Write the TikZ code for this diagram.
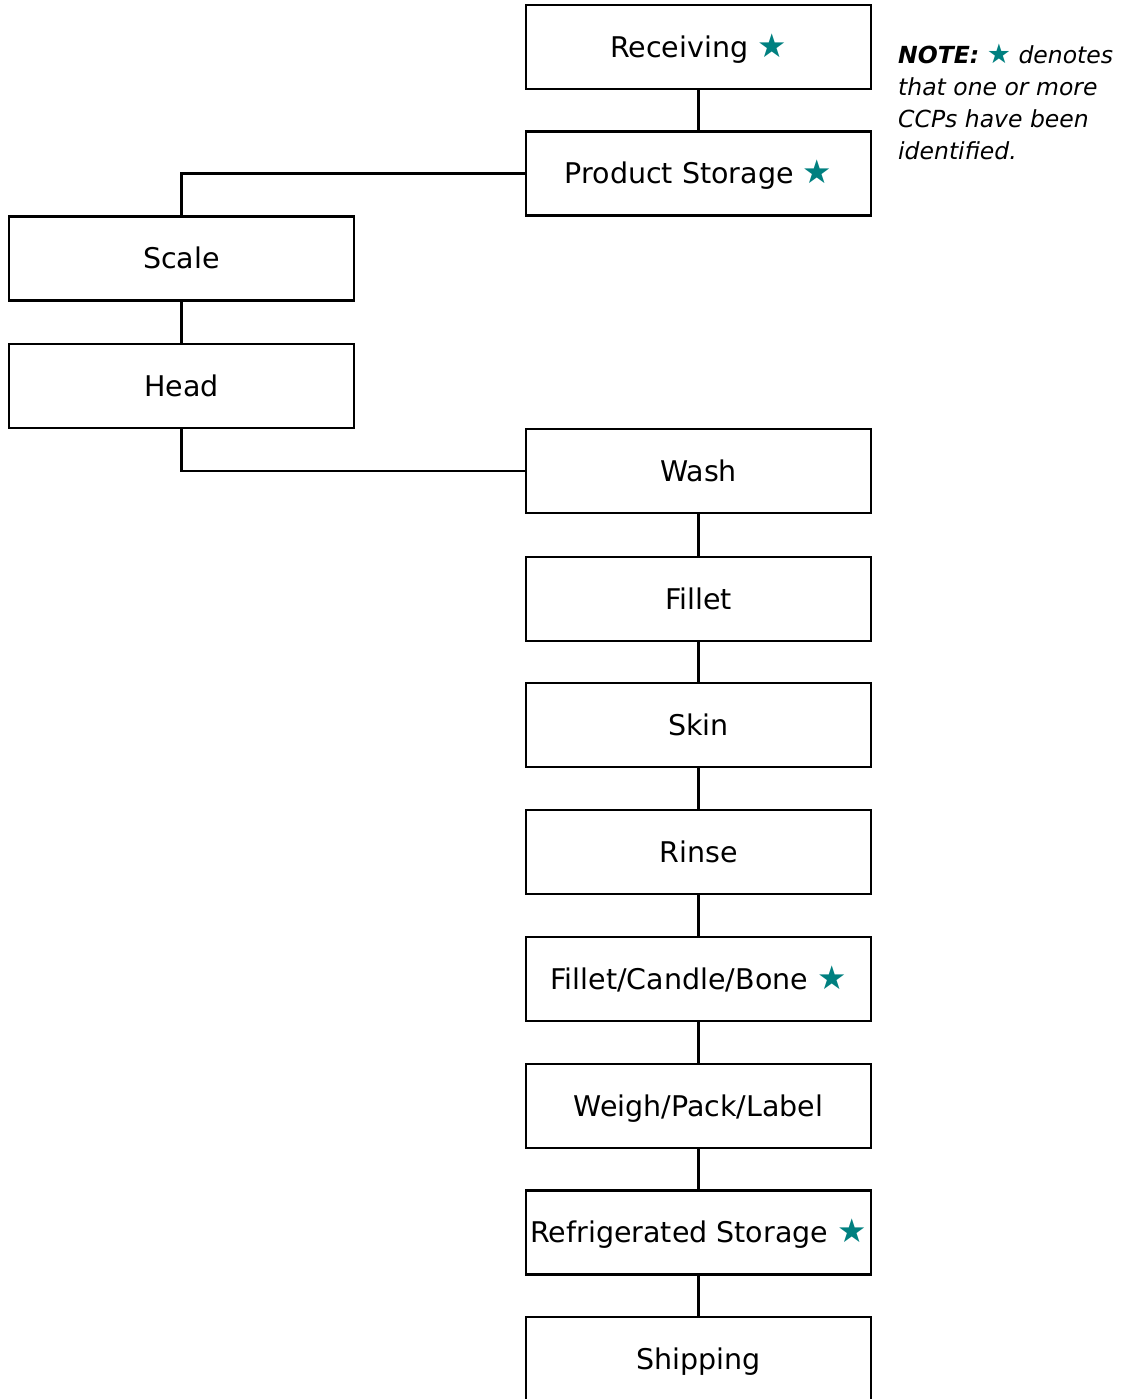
\documentclass[tikz,border=0pt]{standalone}
\usepackage{fontspec}
\setmainfont{DejaVu Sans}
\definecolor{starteal}{RGB}{0,128,128}
\newcommand{\ccp}{\textcolor{starteal}{\scalebox{1.15}{★}}}
\begin{document}
\begin{tikzpicture}[x=1pt,y=-1pt,
  stepbox/.style={draw=black,line width=2.2pt,minimum width=345pt,minimum height=84pt,inner sep=0pt,
    font=\fontsize{28.5}{34}\selectfont,text height=20.8pt,text depth=0pt},
  conn/.style={draw=black,line width=2.2pt},
  notetext/.style={anchor=base west,inner sep=0pt,font=\fontsize{23.5}{30}\selectfont\itshape}]
\useasboundingbox (0,0) rectangle (1128,1399);
\fill[white] (0,0) rectangle (1128,1399);
\node[stepbox] (rec) at (698.5,47) {Receiving \ccp};
\node[stepbox] (ps) at (698.5,173.5) {Product Storage \ccp};
\node[stepbox] (scale) at (181.5,258.5) {Scale};
\node[stepbox] (head) at (181.5,386) {Head};
\node[stepbox] (wash) at (698.5,471) {Wash};
\node[stepbox] (fillet) at (698.5,599) {Fillet};
\node[stepbox] (skin) at (698.5,725) {Skin};
\node[stepbox] (rinse) at (698.5,852) {Rinse};
\node[stepbox] (fcb) at (698.5,979) {Fillet/Candle/Bone \ccp};
\node[stepbox] (weigh) at (698.5,1106) {Weigh/Pack/Label};
\node[stepbox] (refr) at (698.5,1232.5) {Refrigerated Storage \ccp};
\node[stepbox] (ship) at (698.5,1359) {Shipping};
\draw[conn] (rec) -- (ps);
\draw[conn] (ps.west) -| (scale.north);
\draw[conn] (scale) -- (head);
\draw[conn] (head.south) |- (wash.west);
\draw[conn] (wash) -- (fillet);
\draw[conn] (fillet) -- (skin);
\draw[conn] (skin) -- (rinse);
\draw[conn] (rinse) -- (fcb);
\draw[conn] (fcb) -- (weigh);
\draw[conn] (weigh) -- (refr);
\draw[conn] (refr) -- (ship);
\node[notetext] (note1) at (898,64) {\textbf{NOTE:} \ccp{} denotes};
\node[notetext] (note2) at (898,96) {that one or more};
\node[notetext] (note3) at (898,128) {CCPs have been};
\node[notetext] (note4) at (898,160) {identified.};
\end{tikzpicture}
\end{document}
